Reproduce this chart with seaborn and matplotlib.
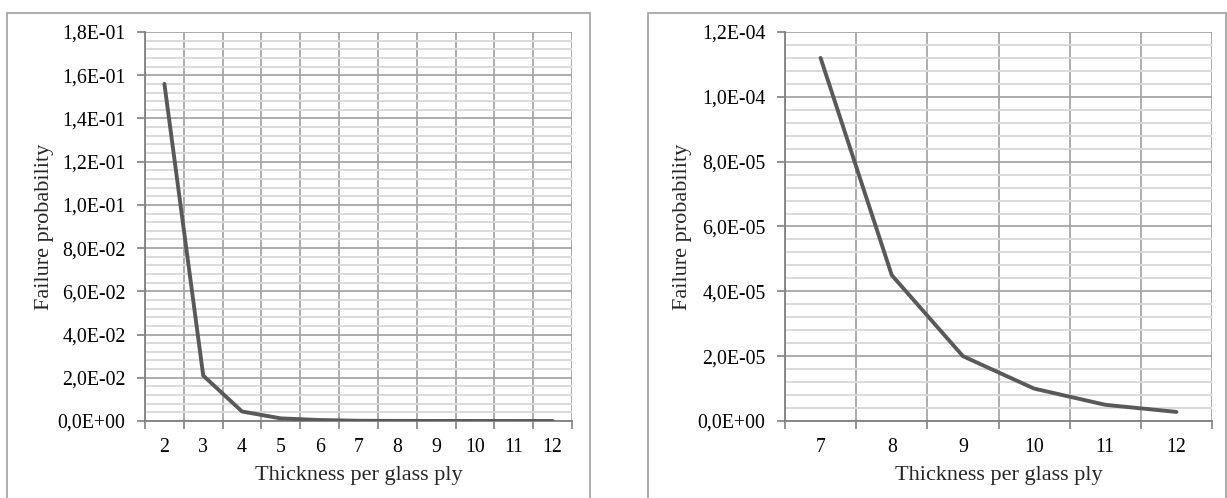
import numpy as np
import matplotlib
matplotlib.use("Agg")
import matplotlib.pyplot as plt
from matplotlib.patches import Rectangle
from matplotlib.ticker import FuncFormatter, MultipleLocator, FixedLocator
import seaborn as sns

# Failure probability vs. thickness per glass ply
thickness_all = [2, 3, 4, 5, 6, 7, 8, 9, 10, 11, 12]
prob_all = [0.156, 0.021, 0.0044, 0.0012, 0.00045, 1.12e-4, 4.5e-5, 2.0e-5, 1.0e-5, 5.0e-6, 2.8e-6]

thickness_zoom = [7, 8, 9, 10, 11, 12]
prob_zoom = [1.12e-4, 4.5e-5, 2.0e-5, 1.0e-5, 5.0e-6, 2.8e-6]

sns.set_theme(style="white")
plt.rcParams["font.family"] = ["Liberation Serif", "DejaVu Serif"]

W, H = 1227, 498
fig = plt.figure(figsize=(W / 100, H / 100), dpi=100)

def sci_comma(v, _pos):
    return f"{v:.1E}".replace(".", ",")

GRID_MAJOR = "#a6a6a6"
GRID_MINOR = "#d9d9d9"
LINE = "#595959"
TICK_FS = 14.3
TITLE_FS = 16

def panel(frame_x0, frame_x1, ax_x0, xs, ys, ymax, ystep, ylabel_x):
    # outer chart frame
    fig.patches.append(Rectangle((frame_x0 / W, -0.05), (frame_x1 - frame_x0) / W, (H - 13) / H + 0.05,
                                 transform=fig.transFigure, fill=False,
                                 edgecolor="#a6a6a6", linewidth=1.3))
    ax = fig.add_axes([ax_x0 / W, 77 / H, 427 / W, 389 / H])
    sns.lineplot(x=xs, y=ys, ax=ax, color=LINE, linewidth=2.8, zorder=5)
    lo, hi = xs[0] - 0.5, xs[-1] + 0.5
    ax.set_xlim(lo, hi)
    ax.set_ylim(0, ymax)

    # horizontal gridlines: major and minor
    ax.yaxis.set_major_locator(MultipleLocator(ystep))
    ax.yaxis.set_minor_locator(MultipleLocator(ystep / 5))
    ax.yaxis.set_major_formatter(FuncFormatter(sci_comma))
    # x labels centred on categories; boundaries carry gridlines and tick marks
    ax.xaxis.set_major_locator(FixedLocator(xs))
    ax.xaxis.set_minor_locator(FixedLocator(np.arange(lo, hi + 0.01, 1.0)))
    ax.grid(which="minor", axis="y", color=GRID_MINOR, linewidth=1.4, zorder=1)
    ax.grid(which="major", axis="y", color=GRID_MAJOR, linewidth=1.3, zorder=2)
    ax.grid(which="minor", axis="x", color=GRID_MAJOR, linewidth=1.3, zorder=2)
    ax.grid(which="major", axis="x", visible=False)
    ax.set_axisbelow(True)

    ax.tick_params(axis="y", which="major", left=True, length=6, width=1.2,
                   color="#808080", labelsize=TICK_FS, pad=8, labelcolor="black")
    ax.tick_params(axis="y", which="minor", left=False)
    ax.tick_params(axis="x", which="major", bottom=False, labelsize=TICK_FS, pad=6,
                   labelcolor="black")
    ax.tick_params(axis="x", which="minor", bottom=True, length=6, width=1.2,
                   color="#808080")

    for side in ("top", "right"):
        ax.spines[side].set_visible(False)
    for side in ("left", "bottom"):
        ax.spines[side].set_color("#808080")
        ax.spines[side].set_linewidth(1.3)

    ax.set_xlabel("Thickness per glass ply", fontsize=TITLE_FS, labelpad=7)
    ax.set_ylabel("")
    fig.text(ylabel_x / W, (77 + 389 / 2) / H, "Failure probability", rotation=90,
             ha="center", va="center", fontsize=TITLE_FS)
    return ax

panel(7, 590, 145, thickness_all, prob_all, 0.18, 0.02, 45)
panel(648, 1226, 785, thickness_zoom, prob_zoom, 1.2e-4, 2e-5, 683)

fig.savefig("out.png", dpi=100, facecolor="white")
